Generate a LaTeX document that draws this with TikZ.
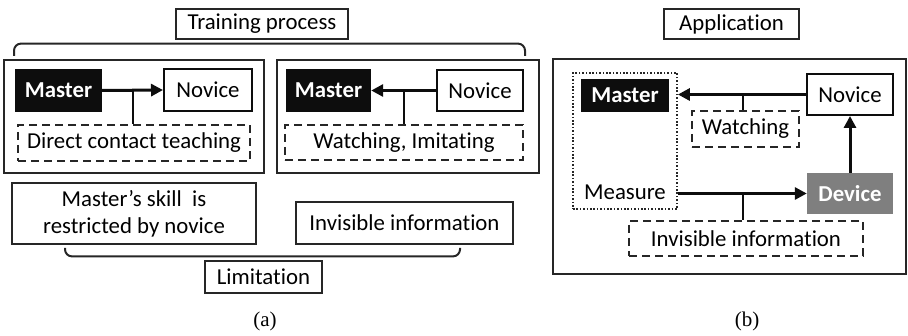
\documentclass[tikz,border=0pt]{standalone}
\usepackage{fontspec}
\setmainfont{Carlito}[Ligatures=NoCommon]
\newfontfamily\capfont{Liberation Serif}
\usepackage{tikz}
\usetikzlibrary{positioning, arrows.meta, calc}
\usepackage{xcolor}
\definecolor{ink}{HTML}{0D0D0D}
\definecolor{devgray}{HTML}{7F7F7F}
\definecolor{edge}{HTML}{262626}
\newcommand{\boxfont}{\fontsize{22.8}{27}\selectfont}

\tikzset{
  titlebox/.style={draw=edge, line width=1.2pt, inner sep=0pt},
  panel/.style={draw=edge, line width=2pt, inner sep=0pt},
  whitebox/.style={draw=ink, line width=2pt, fill=white, inner sep=0pt},
  masterbox/.style={fill=ink, text=white, font=\boxfont\bfseries, inner sep=0pt},
  devbox/.style={fill=devgray, text=white, font=\boxfont\bfseries, inner sep=0pt},
  dashbox/.style={draw=edge, line width=1.8pt, dash pattern=on 8pt off 5pt, inner sep=0pt},
  dotbox/.style={draw=edge, line width=1.8pt, dash pattern=on 1.6pt off 1.8pt, inner sep=0pt},
  flow/.style={draw=ink, line width=3pt, -{Triangle[length=12pt,width=12pt]}},
  tie/.style={draw=ink, line width=2.4pt},
  bracket/.style={draw=edge, line width=2pt, rounded corners=7pt},
  caption/.style={font=\capfont\fontsize{21}{24}\selectfont},
}

\begin{document}
\begin{tikzpicture}[x=1pt, y=-1pt, font=\boxfont]
\useasboundingbox (0,0) rectangle (908,336);

% (a) training process
\node[titlebox, minimum width=172, minimum height=30] (trainlbl) at (262,24) {Training process};
\node[panel, minimum width=260, minimum height=113] (p1) at (134,116.5) {};
\node[panel, minimum width=262, minimum height=113] (p2) at (408,116.5) {};
\draw[bracket] ($(p1.north west)+(11,-3)$) |- ($(trainlbl.south)+(0,4)$) -| ($(p2.north east)+(-15,-3)$);

\node[masterbox, minimum width=87, minimum height=43] (m1) at (58.5,90.5) {Master};
\node[whitebox, minimum width=88, minimum height=42] (n1) at (208,90) {Novice};
\node[dashbox, minimum width=232, minimum height=36] (d1) at (134,143) {Direct contact teaching};
\draw[flow] (m1.east) -- (n1.west);
\coordinate (j1) at (133,90);
\draw[tie] (j1) -- (j1 |- d1.north);

\node[masterbox, minimum width=85, minimum height=43] (m2) at (328.5,90.5) {Master};
\node[whitebox, minimum width=86, minimum height=41] (n2) at (480,90.5) {Novice};
\node[dashbox, minimum width=238, minimum height=35] (d2) at (404,142.5) {Watching, Imitating};
\draw[flow] (n2.west) -- (m2.east);
\coordinate (j2) at (404,90.5);
\draw[tie] (j2) -- (j2 |- d2.north);

% (a) limitation
\node[panel, minimum width=244, minimum height=61, align=center] (l1) at (134,213.5) {Master’s skill~ is\\restricted by novice};
\node[panel, minimum width=217, minimum height=42] (l2) at (404.5,223) {Invisible information};
\node[titlebox, minimum width=117, minimum height=32] (limlbl) at (263.5,277) {Limitation};
\draw[bracket] ($(l1.south)+(-69,3)$) |- ($(limlbl.north)+(0,-4)$) -| ($(l2.south)+(55.5,3)$);
\node[caption] (capa) at (265,321) {(a)};

% (b) application
\node[titlebox, minimum width=135, minimum height=30] (applbl) at (731.5,24) {Application};
\node[panel, minimum width=353, minimum height=215] (p3) at (729.5,166.5) {};
\node[dotbox, minimum width=104, minimum height=136] (meas) at (625,141) {};
\node[masterbox, minimum width=88, minimum height=33] (m3) at (625,95.5) {Master};
\node (mlbl) at (625,192) {Measure};
\node[whitebox, minimum width=86, minimum height=41] (n3) at (850,94.5) {Novice};
\node[devbox, minimum width=86, minimum height=41] (dev) at (850,193.5) {Device};
\node[dashbox, minimum width=107, minimum height=36] (watch) at (745.5,129) {Watching};
\node[dashbox, minimum width=234, minimum height=35] (inv) at (746,238.5) {Invisible information};

\draw[flow] (n3.west) -- (n3.west -| meas.east);
\draw[flow] (dev.north) -- (n3.south);
\draw[flow] (meas.east |- dev.west) -- (dev.west);
\coordinate (j3) at (743,94.5);
\coordinate (j4) at (743,193.5);
\draw[tie] (j3) -- (j3 |- watch.north);
\draw[tie] (j4) -- (j4 |- inv.north);
\node[caption] (capb) at (747,321) {(b)};
\end{tikzpicture}
\end{document}
